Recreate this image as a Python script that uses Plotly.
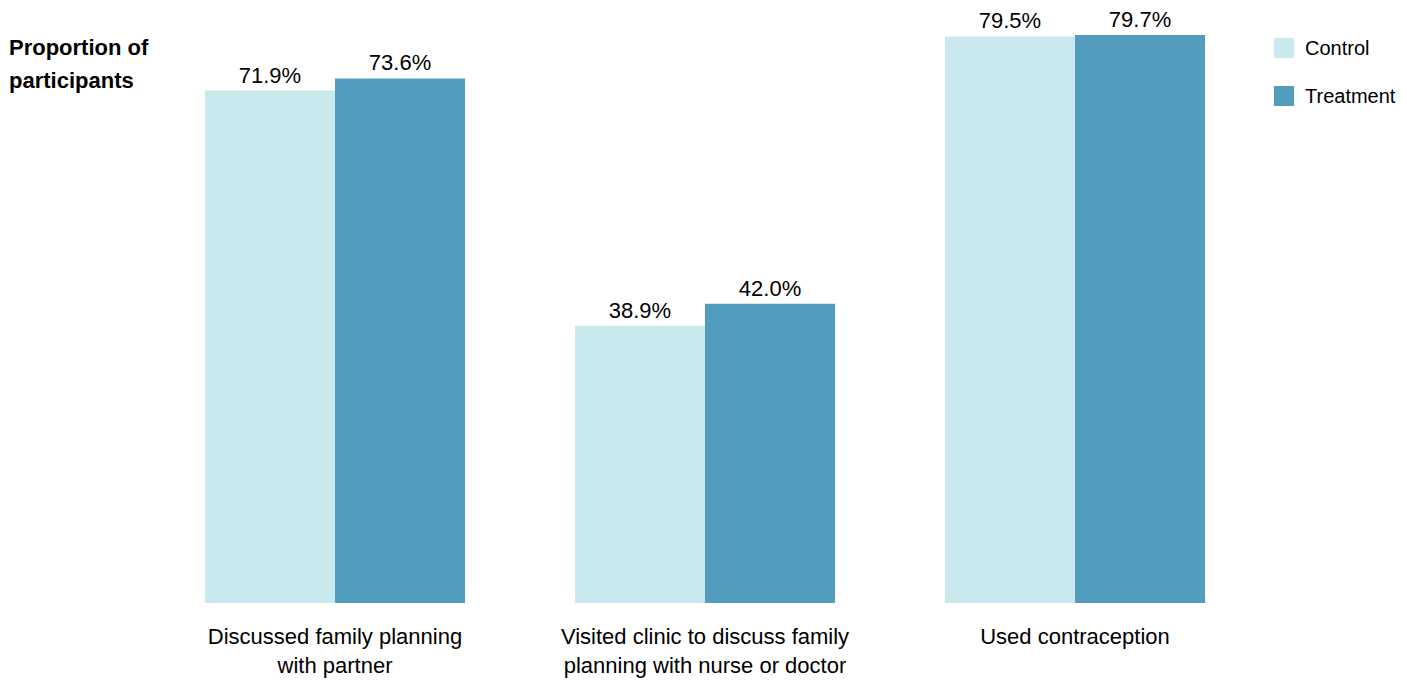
import plotly.graph_objects as go

categories = ["Discussed family planning<br>with partner",
              "Visited clinic to discuss family<br>planning with nurse or doctor",
              "Used contraception"]
control = [71.9, 38.9, 79.5]
treatment = [73.6, 42.0, 79.7]
series_names = ["Control", "Treatment"]
colors = ["#CAE9EE", "#529DBE"]

FONT = "Liberation Sans, Arial, sans-serif"
OFF = 8  # page body margin
W, H = 1407 - OFF, 682 - OFF
L, T = 150 - OFF, 20 - OFF
R = W - (1260 - OFF)
B = H - (603 - OFF)
PW, PH = W - L - R, H - T - B

def px_x(x):  # page pixel -> paper
    return (x - OFF - L) / PW

def px_y(y):
    return (H - B - (y - OFF)) / PH

fig = go.Figure()
for name, vals, col in zip(series_names, [control, treatment], colors):
    fig.add_trace(go.Bar(
        x=categories, y=vals, name=name, marker_color=col, marker_line_width=0,
        text=[f"{v:.1f}%" for v in vals], textposition="outside",
        textfont=dict(size=22, color="black", family=FONT),
        cliponaxis=False, showlegend=False,
    ))

shapes = []
annotations = [
    dict(text="<b>Proportion of</b>", xref="paper", yref="paper", x=px_x(OFF), y=px_y(48),
         xanchor="left", yanchor="middle", showarrow=False, borderpad=0,
         font=dict(size=22, family=FONT)),
    dict(text="<b>participants</b>", xref="paper", yref="paper", x=px_x(OFF), y=px_y(80),
         xanchor="left", yanchor="middle", showarrow=False, borderpad=0,
         font=dict(size=22, family=FONT)),
]
for i, (name, col) in enumerate(zip(series_names, colors)):
    yc = 48 + 48 * i
    shapes.append(dict(type="rect", xref="paper", yref="paper",
                       x0=px_x(1274), x1=px_x(1294), y0=px_y(yc + 10), y1=px_y(yc - 10),
                       fillcolor=col, line_width=0))
    annotations.append(dict(text=name, xref="paper", yref="paper", x=px_x(1303), y=px_y(yc),
                            xanchor="left", yanchor="middle", showarrow=False,
                            font=dict(size=20, family=FONT)))

fig.update_layout(
    width=W, height=H,
    margin=dict(l=L, r=R, t=T, b=B, autoexpand=False),
    plot_bgcolor="white", paper_bgcolor="white",
    barmode="group", bargap=0.297, bargroupgap=0,
    font=dict(family=FONT, size=22, color="black"),
    showlegend=False,
    xaxis=dict(showline=False, ticks="", tickfont=dict(size=22), range=[-0.5, 2.5],
               automargin=False, ticklabelstandoff=18),
    yaxis=dict(visible=False, range=[0, 81.8], showgrid=False, zeroline=False, automargin=False),
    shapes=shapes,
    annotations=annotations,
)
fig.write_html("out.html")
